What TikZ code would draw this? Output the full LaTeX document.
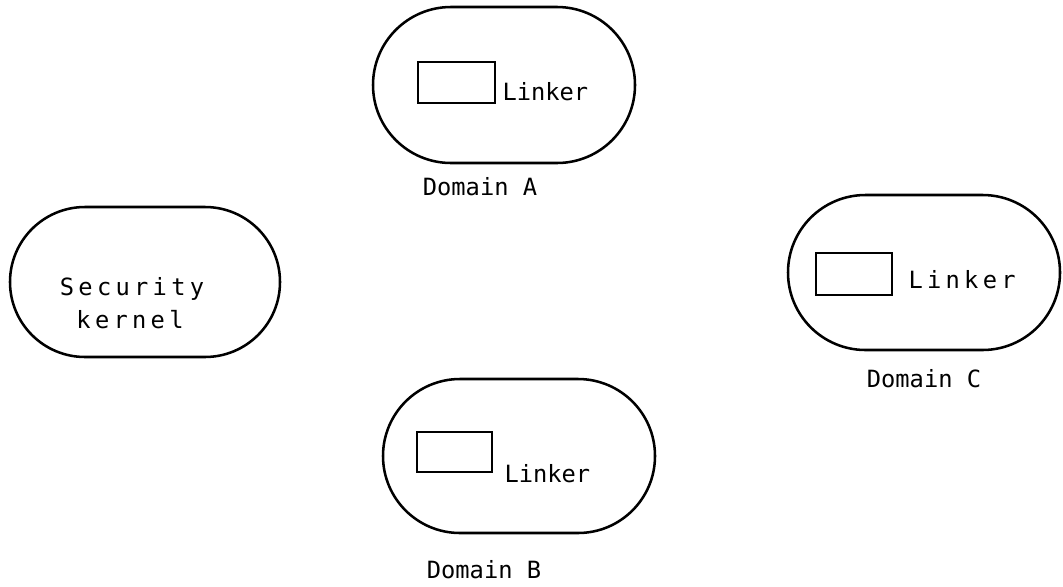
\documentclass[tikz,border=0pt]{standalone}
\usepackage{fontspec}
\newfontfamily\monotxt{DejaVu Sans Mono}
\newfontfamily\monowide[LetterSpace=18]{DejaVu Sans Mono}
\tikzset{every picture/.style={line width=0.75pt}}

\begin{document}
\begin{tikzpicture}[x=0.75pt,y=0.75pt,yscale=-1,xscale=1,
	stadium/.style={line width=1.9pt, rounded corners=#1},
	linkbox/.style={line width=2pt},
	txt/.style={font=\monotxt\fontsize{17.8}{22}\selectfont, anchor=base, inner sep=0pt},
	txtwide/.style={font=\monowide\fontsize{17.8}{22}\selectfont, anchor=base, inner sep=0pt}]
	\useasboundingbox (0,0) rectangle (1063,586); %page size of the scan

	%Shape: Stadium [id:kernel] 
	\draw [stadium=56.25pt] (10,207) rectangle (280,357) ;
	% Text Node
	\draw (132,295) node [txtwide] (kernTop) {Security};
	% Text Node
	\draw (130,328) node [txtwide] (kernBot) {kernel};

	%Shape: Stadium [id:domA] 
	\draw [stadium=58.5pt] (373,7) rectangle (635,163) ;
	%Shape: Rectangle [id:boxA] 
	\draw [linkbox] (418,62) rectangle (495,103) ;
	% Text Node
	\draw (502,100) node [txt, anchor=base west] (linkA) {Linker};
	% Text Node
	\draw (480,195) node [txt] (nameA) {Domain A};

	%Shape: Stadium [id:domC] 
	\draw [stadium=58.1pt] (788,195) rectangle (1060,350) ;
	%Shape: Rectangle [id:boxC] 
	\draw [linkbox] (816,253) rectangle (892,295) ;
	% Text Node
	\draw (908,288) node [txtwide, anchor=base west] (linkC) {Linker};
	% Text Node
	\draw (924,387) node [txt] (nameC) {Domain C};

	%Shape: Stadium [id:domB] 
	\draw [stadium=57.75pt] (383,379) rectangle (655,533) ;
	%Shape: Rectangle [id:boxB] 
	\draw [linkbox] (417,432) rectangle (492,472) ;
	% Text Node
	\draw (504,482) node [txt, anchor=base west] (linkB) {Linker};
	% Text Node
	\draw (484,578) node [txt] (nameB) {Domain B};

\end{tikzpicture}
\end{document}
